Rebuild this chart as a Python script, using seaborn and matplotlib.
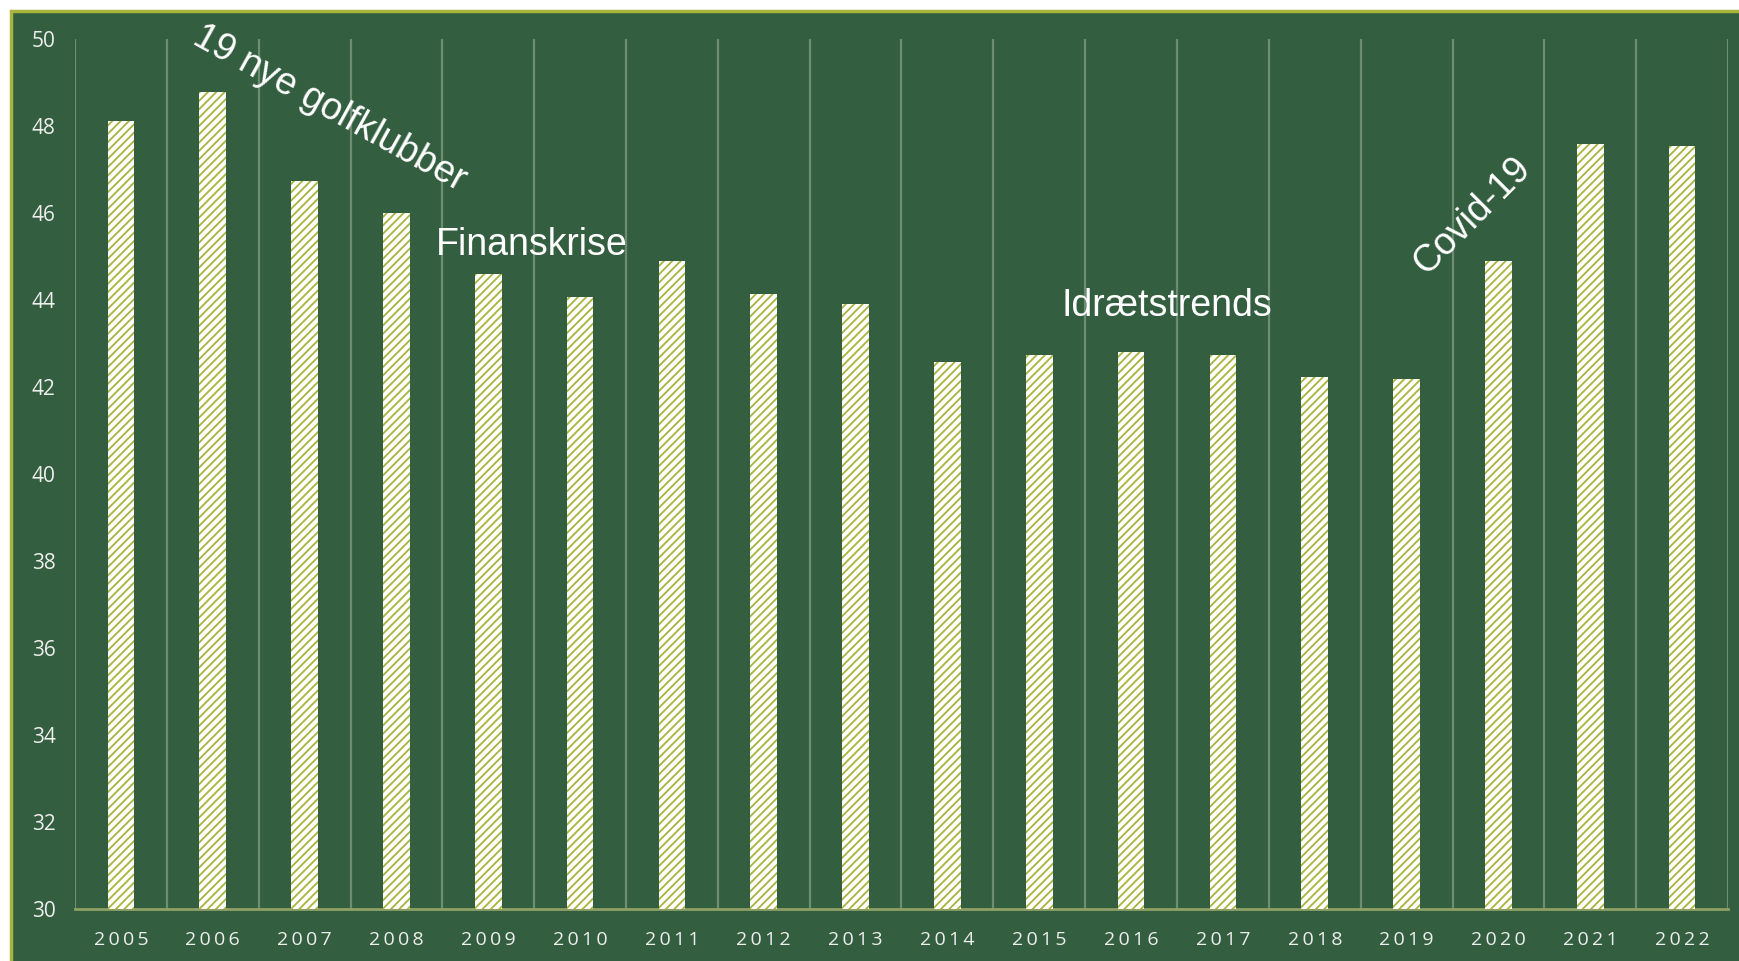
import matplotlib
matplotlib.use("Agg")
import matplotlib.pyplot as plt
import matplotlib.patches as mpatches
import seaborn as sns
import numpy as np

years = [2005, 2006, 2007, 2008, 2009, 2010, 2011, 2012, 2013,
         2014, 2015, 2016, 2017, 2018, 2019, 2020, 2021, 2022]
values = [48.11, 48.78, 46.73, 46.0, 44.59, 44.08, 44.9, 44.13, 43.9,
          42.58, 42.73, 42.81, 42.73, 42.22, 42.19, 44.9, 47.58, 47.53]
year_labels = ["\u2009".join(str(y)) for y in years]
y_ticks = list(range(30, 51, 2))

bg = '#335E40'
olive = '#A9B43C'
grid_c = '#6E8C74'

sns.set_style("white")
plt.rcParams['hatch.linewidth'] = 1.3

fig = plt.figure(figsize=(17.39, 9.61), dpi=100)
fig.patch.set_facecolor('white')
# green panel with olive border, clipped at right/bottom like the source
fig.patches.append(mpatches.Rectangle((11/1739, -0.1), 1.2, 1 - 11/961 + 0.1,
                                      transform=fig.transFigure, facecolor=bg,
                                      edgecolor=olive, linewidth=2.5, zorder=-5))

ax = fig.add_axes([75/1739, 52/961, (1728-75)/1739, (909-39)/961])
ax.set_zorder(2)
ax.patch.set_alpha(0)

sns.barplot(x=year_labels, y=values, color='white', saturation=1, width=0.29,
            hatch='////', edgecolor=olive, linewidth=0, ax=ax, zorder=3)

ax.set_ylim(30, 50)
ax.set_xlim(-0.5, len(years) - 0.5)
ax.set_yticks(y_ticks)
ax.set_xticks(np.arange(-0.5, len(years), 1.0), minor=True)
ax.grid(which='minor', axis='x', color=grid_c, linewidth=1.6)
ax.grid(which='major', axis='both', visible=False)
ax.tick_params(which='both', length=0)
ax.tick_params(axis='y', colors='#EEEEEE', labelsize=15, pad=14)
ax.tick_params(axis='x', colors='#EEEEEE', labelsize=14, pad=16)
for lab in ax.get_xticklabels() + ax.get_yticklabels():
    lab.set_fontfamily(['Open Sans', 'DejaVu Sans'])
for s in ['top', 'right', 'left']:
    ax.spines[s].set_visible(False)
ax.spines['bottom'].set_color('#8FA064')
ax.spines['bottom'].set_linewidth(2)
ax.set_xlabel("")
ax.set_ylabel("")

txt = dict(color='white', fontsize=27, family='Liberation Sans',
           ha='center', va='center', transform=fig.transFigure, zorder=5)
fig.text(330/1739, 1 - 108/961, "19 nye golfklubber", rotation=-29, **txt)
fig.text(532/1739, 1 - 245/961, "Finanskrise", **txt)
fig.text(1167/1739, 1 - 306/961, "Idrætstrends", **txt)
fig.text(1472/1739, 1 - 216/961, "Covid-19", rotation=45, **txt)

fig.savefig("out.png", dpi=100)
